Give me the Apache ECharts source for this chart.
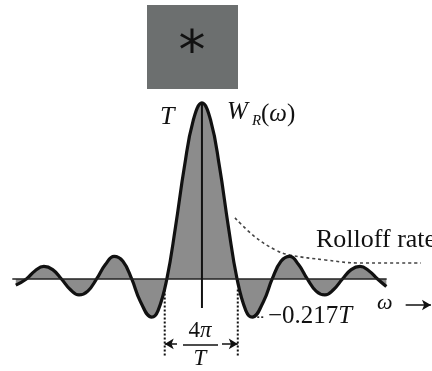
<!DOCTYPE html>
<html>
<head>
<meta charset="utf-8">
<style>
  html, body { margin: 0; padding: 0; background: #ffffff; }
  #chart { width: 432px; height: 371px; }
</style>
<script src="https://cdn.jsdelivr.net/npm/echarts@6/dist/echarts.min.js"></script>
</head>
<body>
<div id="chart"></div>
<script>
// Frequency axis in units of 2π/T (zeros of the window spectrum fall on integers)
const omegaSamples = [
  -5.3, -5, -4.75, -4.5, -4.25, -4, -3.75, -3.5, -3.25, -3, -2.75, -2.5, -2.25,
  -2, -1.75, -1.43, -1.25, -1, -0.75, -0.5, -0.25, 0, 0.25, 0.5, 0.75, 1,
  1.25, 1.43, 1.75, 2, 2.25, 2.5, 2.75, 3, 3.25, 3.5, 3.75, 4, 4.25, 4.5,
  4.75, 5, 5.25
];
// W_R(ω) in units of T
const windowValues = [
  -0.035, 0, 0.047, 0.071, 0.053, 0, -0.060, -0.091, -0.069, 0, 0.082, 0.128, 0.100,
  0, -0.129, -0.217, -0.180, 0, 0.300, 0.637, 0.900, 1, 0.900, 0.637, 0.300, 0,
  -0.180, -0.217, -0.129, 0, 0.100, 0.128, 0.082, 0, -0.069, -0.091, -0.060, 0, 0.053, 0.071,
  0.047, 0, -0.043
];
// Dashed envelope showing the rolloff of the side lobes
const rolloffOmega = [0.94, 1.51, 2.09, 2.51, 3.51, 4.46, 6.23];
const rolloffValues = [0.347, 0.239, 0.165, 0.136, 0.108, 0.091, 0.091];

// Reference marks
const peakValue = 1;          // T
const sideLobeMin = -0.217;   // −0.217T
const mainLobeHalfWidth = 1;  // 2π/T on either side -> width 4π/T
const baselineExtent = [-5.4, 5.26];

const pairs = (xs, ys) => xs.map((x, i) => [x, ys[i]]);

const INK = '#111111';
const FONT = '"Liberation Serif", "Times New Roman", serif';

const chart = echarts.init(document.getElementById('chart'), null, { renderer: 'canvas' });

chart.setOption({
  animation: false,
  backgroundColor: '#ffffff',
  grid: { left: 0, right: 0, top: 0, bottom: 0 },
  xAxis: { type: 'value', min: -5.75, max: 6.55, show: false },
  yAxis: { type: 'value', min: -0.523, max: 1.585, show: false },
  series: [
    {
      // window spectrum with shaded lobes
      type: 'line',
      data: pairs(omegaSamples, windowValues),
      smooth: 0.45,
      showSymbol: false,
      lineStyle: { color: INK, width: 3.2 },
      areaStyle: { color: '#8c8c8c', opacity: 1, origin: 0 },
      z: 3
    },
    {
      // frequency axis line
      type: 'line',
      data: baselineExtent.map(x => [x, 0]),
      showSymbol: false,
      lineStyle: { color: '#222222', width: 1.5 },
      z: 4,
      markLine: {
        silent: true,
        symbol: ['none', 'arrow'],
        symbolSize: [8, 9],
        label: { show: false },
        lineStyle: { color: INK, width: 1.5, type: 'solid' },
        data: [
          [{ coord: [-0.71, -0.369] }, { coord: [-mainLobeHalfWidth - 0.06, -0.369] }],
          [{ coord: [0.57, -0.369] }, { coord: [mainLobeHalfWidth + 0.02, -0.369] }],
          [{ coord: [5.8, -0.148] }, { coord: [6.52, -0.148] }]
        ]
      }
    },
    {
      // vertical axis through the main lobe
      type: 'line',
      data: [[0, -0.165], [0, peakValue]],
      showSymbol: false,
      lineStyle: { color: INK, width: 2 },
      z: 5
    },
    {
      // rolloff envelope
      type: 'line',
      data: pairs(rolloffOmega, rolloffValues),
      smooth: 0.4,
      showSymbol: false,
      lineStyle: { color: '#444444', width: 1.6, type: [3, 3] },
      z: 2
    },
    {
      // dotted guides marking the main-lobe width
      type: 'line',
      data: [[-mainLobeHalfWidth - 0.06, -0.06], [-mainLobeHalfWidth - 0.06, -0.44]],
      showSymbol: false,
      lineStyle: { color: INK, width: 2, type: [2, 2] },
      z: 2
    },
    {
      type: 'line',
      data: [[mainLobeHalfWidth + 0.02, -0.06], [mainLobeHalfWidth + 0.02, -0.44]],
      showSymbol: false,
      lineStyle: { color: INK, width: 2, type: [2, 2] },
      z: 2
    },
    {
      // dotted leader from the first side-lobe minimum to its label
      type: 'line',
      data: [[1.46, sideLobeMin], [1.8, sideLobeMin]],
      showSymbol: false,
      lineStyle: { color: INK, width: 1.5, type: [2, 2] },
      z: 2
    }
  ],
  graphic: [
    { type: 'rect', shape: { x: 147, y: 5, width: 91, height: 84 }, style: { fill: '#6c6f6f' } },
    { type: 'text', x: 192, y: 54, style: { text: '*', font: '54px "DejaVu Sans"', fill: INK, align: 'center', verticalAlign: 'middle' } },
    { type: 'text', x: 160, y: 117, style: { text: 'T', font: 'italic 26px ' + FONT, fill: INK, align: 'left', verticalAlign: 'middle' } },
    { type: 'text', x: 227, y: 112, style: { text: 'W', font: 'italic 25px ' + FONT, fill: INK, align: 'left', verticalAlign: 'middle' } },
    { type: 'text', x: 252, y: 121, style: { text: 'R', font: 'italic 15px ' + FONT, fill: INK, align: 'left', verticalAlign: 'middle' } },
    {
      type: 'text', x: 261, y: 114,
      style: {
        text: '{p|(}{w|ω}{p|)}', fill: INK, align: 'left', verticalAlign: 'middle',
        rich: { p: { font: '25px ' + FONT, fill: INK }, w: { font: 'italic 25px ' + FONT, fill: INK } }
      }
    },
    { type: 'text', x: 316, y: 240, style: { text: 'Rolloff rate', font: '26px ' + FONT, fill: INK, align: 'left', verticalAlign: 'middle' } },
    {
      type: 'text', x: 268, y: 316,
      style: {
        text: '{n|−0.217}{t|T}', fill: INK, align: 'left', verticalAlign: 'middle',
        rich: { n: { font: '25px ' + FONT, fill: INK }, t: { font: 'italic 25px ' + FONT, fill: INK } }
      }
    },
    { type: 'text', x: 377, y: 303, style: { text: 'ω', font: 'italic 22px ' + FONT, fill: INK, align: 'left', verticalAlign: 'middle' } },
    {
      type: 'text', x: 200, y: 331,
      style: {
        text: '{n|4}{p|π}', fill: INK, align: 'center', verticalAlign: 'middle',
        rich: { n: { font: '23px ' + FONT, fill: INK }, p: { font: 'italic 23px ' + FONT, fill: INK } }
      }
    },
    { type: 'line', shape: { x1: 183, y1: 345, x2: 218, y2: 345 }, style: { stroke: INK, lineWidth: 1.5 } },
    { type: 'text', x: 200, y: 359, style: { text: 'T', font: 'italic 23px ' + FONT, fill: INK, align: 'center', verticalAlign: 'middle' } }
  ]
});
</script>
</body>
</html>
